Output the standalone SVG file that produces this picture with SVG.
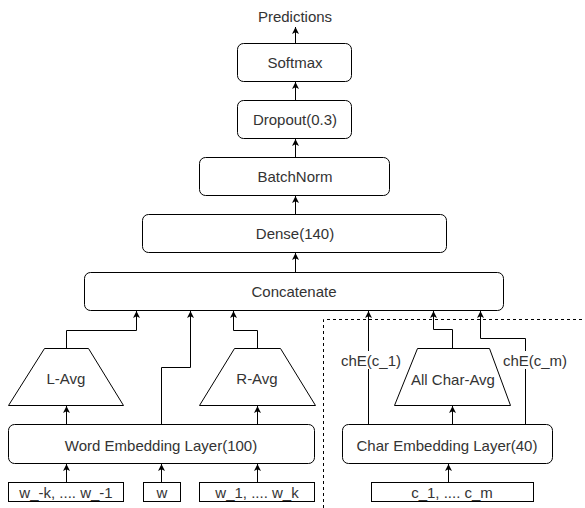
<svg xmlns="http://www.w3.org/2000/svg" width="585" height="508" viewBox="0 0 585 508">
<style>
  .box{fill:#fff;stroke:#000;stroke-width:1}
  .t{font-family:"Liberation Sans",Arial,sans-serif;font-size:15px;fill:#333;text-anchor:middle;dominant-baseline:central}
  .c{fill:none;stroke:#000;stroke-width:1}
  .dash{fill:none;stroke:#000;stroke-width:1;stroke-dasharray:3 3}
</style>
<defs>
  <marker id="arr" markerUnits="userSpaceOnUse" markerWidth="8" markerHeight="8" refX="7" refY="3.5" orient="auto">
    <path d="M0,0 L7,3.5 L0,7 L1.75,3.5 z" fill="#000"/>
  </marker>
</defs>

<g id="connectors">
  <path class="c" d="M295.5 43 V27" marker-end="url(#arr)"/>
  <path class="c" d="M295.5 100 V82" marker-end="url(#arr)"/>
  <path class="c" d="M295.5 157 V139" marker-end="url(#arr)"/>
  <path class="c" d="M295.5 214 V196" marker-end="url(#arr)"/>
  <path class="c" d="M295.5 272 V253" marker-end="url(#arr)"/>
  <path class="c" d="M66.5 348 V330.5 H136.5 V311" marker-end="url(#arr)"/>
  <path class="c" d="M161.5 424 V367.5 H190.5 V311" marker-end="url(#arr)"/>
  <path class="c" d="M257.5 348 V330.5 H233.5 V311" marker-end="url(#arr)"/>
  <path class="c" d="M66.5 424 V406" marker-end="url(#arr)"/>
  <path class="c" d="M257.5 424 V406" marker-end="url(#arr)"/>
  <path class="c" d="M66.5 482 V464" marker-end="url(#arr)"/>
  <path class="c" d="M161.5 482 V464" marker-end="url(#arr)"/>
  <path class="c" d="M257.5 482 V464" marker-end="url(#arr)"/>
  <path class="c" d="M368.5 424 V311" marker-end="url(#arr)"/>
  <path class="c" d="M452.5 348 V329.5 H433.5 V311" marker-end="url(#arr)"/>
  <path class="c" d="M525.5 424 V338.5 H480.5 V311" marker-end="url(#arr)"/>
  <path class="c" d="M452.5 424 V406" marker-end="url(#arr)"/>
  <path class="c" d="M448.5 482 V464" marker-end="url(#arr)"/>
  <path class="dash" d="M323.5 508 V319.5 H585"/>
</g>

<g id="predictions"><text class="t" x="295" y="16">Predictions</text></g>
<g id="softmax"><rect class="box" x="237.5" y="43.5" width="114" height="38" rx="6"/><text class="t" x="295" y="62">Softmax</text></g>
<g id="dropout"><rect class="box" x="237.5" y="100.5" width="114" height="38" rx="6"/><text class="t" x="295" y="119">Dropout(0.3)</text></g>
<g id="batchnorm"><rect class="box" x="199.5" y="157.5" width="190" height="38" rx="6"/><text class="t" x="295" y="176">BatchNorm</text></g>
<g id="dense"><rect class="box" x="142.5" y="214.5" width="304" height="38" rx="6"/><text class="t" x="295" y="233">Dense(140)</text></g>
<g id="concatenate"><rect class="box" x="84.5" y="272.5" width="419" height="38" rx="6"/><text class="t" x="294" y="291">Concatenate</text></g>

<g id="lavg"><polygon class="box" points="44.5,348.5 88.5,348.5 123.5,405.5 8.5,405.5"/><text class="t" x="66" y="378">L-Avg</text></g>
<g id="ravg"><polygon class="box" points="234.5,348.5 280.5,348.5 315.5,405.5 199.5,405.5"/><text class="t" x="257" y="378">R-Avg</text></g>
<g id="wordemb"><rect class="box" x="8.5" y="424.5" width="306" height="39" rx="6"/><text class="t" x="161" y="445">Word Embedding Layer(100)</text></g>
<g id="in_left"><rect class="box" x="8.5" y="482.5" width="115" height="19"/><text class="t" x="66" y="492">w_-k, .... w_-1</text></g>
<g id="in_w"><rect class="box" x="143.5" y="482.5" width="37" height="19"/><text class="t" x="162" y="492">w</text></g>
<g id="in_right"><rect class="box" x="199.5" y="482.5" width="115" height="19"/><text class="t" x="257" y="492">w_1, .... w_k</text></g>

<g id="charavg"><polygon class="box" points="417.5,348.5 489.5,348.5 510.5,405.5 394.5,405.5"/><text class="t" x="453" y="379">All Char-Avg</text></g>
<g id="charemb"><rect class="box" x="342.5" y="424.5" width="210" height="39" rx="6"/><text class="t" x="447" y="445">Char Embedding Layer(40)</text></g>
<g id="in_char"><rect class="box" x="371.5" y="482.5" width="162" height="19"/><text class="t" x="452" y="492">c_1, .... c_m</text></g>
<g id="label_c1"><rect x="340" y="351" width="62" height="18" fill="#fff"/><text class="t" x="371" y="360">chE(c_1)</text></g>
<g id="label_cm"><rect x="502" y="351" width="66" height="18" fill="#fff"/><text class="t" x="535" y="360">chE(c_m)</text></g>
</svg>
